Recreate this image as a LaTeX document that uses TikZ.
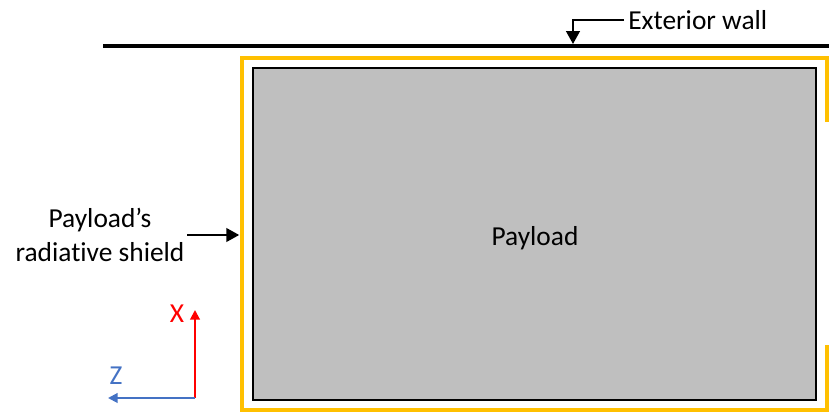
\documentclass[tikz,border=0pt]{standalone}
\usepackage{fontspec}
\setmainfont[Ligatures=NoCommon]{Carlito}
\usepackage{xcolor}
\usetikzlibrary{arrows.meta}
\definecolor{shieldorange}{HTML}{FFC000}
\definecolor{payloadgray}{HTML}{BFBFBF}
\definecolor{axisred}{HTML}{FF0000}
\definecolor{axisblue}{HTML}{4472C4}

\begin{document}
\begin{tikzpicture}[
    every node/.style={font=\fontsize{19.5}{24}\selectfont},
    wall/.style={line width=2.8pt},
    shield/.style={draw=shieldorange, line width=2.8pt, miter limit=10},
    payloadbox/.style={draw, line width=1.2pt, fill=payloadgray,
                       minimum width=14.075cm, minimum height=8.3cm, inner sep=0pt},
    lbl/.style={align=center, inner sep=0pt},
    arr/.style={-{Triangle[length=3.2mm,width=3.4mm]}, line width=1.4pt},
    axarr/.style={-{Triangle[length=2.4mm,width=2.4mm]}, line width=1.4pt},
]
    \useasboundingbox (0,0) rectangle (20.725,10.45);

    % Exterior wall
    \draw[wall] (2.575,9.3) -- (20.725,9.3);
    \coordinate (wallpt) at (14.325,9.35);

    % Radiative shield, open on the right
    \draw[shield] (20.675,7.4) -- (20.675,9.0) -- (6.05,9.0) -- (6.05,0.2)
                  -- (20.675,0.2) -- (20.675,1.825);
    \coordinate (shieldpt) at (5.98,4.575);

    % Payload
    \node[payloadbox] (payload) at (13.3625,4.6) {};
    \node (payloadlbl) at (13.375,4.5) {Payload};

    % Labels
    \node[lbl, anchor=west] (walllbl)   at (15.7,9.95) {Exterior wall};
    \node[lbl]              (shieldlbl) at (2.5,4.575) {Payload’s\\radiative shield};

    \draw[arr] (walllbl.west) ++(-0.1,0) -| (wallpt);
    \draw[arr] (4.675,4.575) -- (shieldpt);

    % Axes
    \coordinate (origin) at (4.875,0.5);
    \draw[axarr, axisred]  (origin) -- ++(0,2.2) coordinate (xtip);
    \draw[axarr, axisblue] (origin) -- ++(-2.175,0) coordinate (ztip);
    \node[axisred]  (xlbl) at (4.425,2.6)  {X};
    \node[axisblue] (zlbl) at (2.9,1.05)   {Z};

\end{tikzpicture}
\end{document}
